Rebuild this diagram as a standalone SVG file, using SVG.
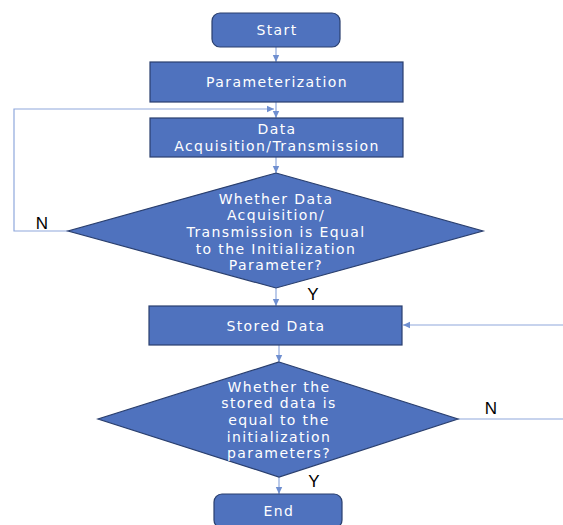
<svg xmlns="http://www.w3.org/2000/svg" width="563" height="525" viewBox="0 0 563 525">
<defs>
<marker id="ah" markerWidth="8" markerHeight="8" refX="7" refY="4" orient="auto" markerUnits="userSpaceOnUse">
<path d="M0,0.8 L7,4 L0,7.2 Z" fill="#6f8fd0"/>
</marker>
<style>
.box{fill:#4f72be;stroke:#2a3f6e;stroke-width:1.2}
.t{fill:#ffffff;font-family:"DejaVu Sans","Noto Sans",sans-serif;font-size:14px;letter-spacing:1.4px;text-anchor:middle}
.c{fill:none;stroke:#8fa8dc;stroke-width:1.2}
.lbl{fill:#000000;font-family:"Liberation Sans",Arial,sans-serif;font-size:17px;text-anchor:middle}
</style>
</defs>
<rect width="563" height="525" fill="#ffffff"/>
<g id="connectors">
<line class="c" x1="276" y1="47" x2="276" y2="62" marker-end="url(#ah)"/>
<line class="c" x1="276" y1="102" x2="276" y2="118" marker-end="url(#ah)"/>
<polyline class="c" points="68,231 14,231 14,109 274,109" marker-end="url(#ah)"/>
<line class="c" x1="276" y1="157" x2="276" y2="173" marker-end="url(#ah)"/>
<line class="c" x1="276" y1="288" x2="276" y2="306" marker-end="url(#ah)"/>
<polyline class="c" points="458,419 566,419 566,325 403,325" marker-end="url(#ah)"/>
<line class="c" x1="279" y1="345" x2="279" y2="362" marker-end="url(#ah)"/>
<line class="c" x1="279" y1="477" x2="279" y2="494" marker-end="url(#ah)"/>
<text class="lbl" x="42" y="229">N</text>
<text class="lbl" x="313" y="300">Y</text>
<text class="lbl" x="491" y="414">N</text>
<text class="lbl" x="314" y="487">Y</text>
</g>
<g id="start">
<rect class="box" x="212" y="13" width="128" height="34" rx="8"/>
<text class="t" x="277" y="35">Start</text>
</g>
<g id="parameterization">
<rect class="box" x="150" y="62" width="253" height="40"/>
<text class="t" x="277" y="87">Parameterization</text>
</g>
<g id="data-acquisition">
<rect class="box" x="150" y="118" width="253" height="39"/>
<text class="t" x="277" y="134">Data</text>
<text class="t" x="277" y="151">Acquisition/Transmission</text>
</g>
<g id="decision1">
<polygon class="box" points="276,173 483,231 276,288 68,231"/>
<text class="t" x="276" y="204">Whether Data</text>
<text class="t" x="276" y="220">Acquisition/</text>
<text class="t" x="276" y="237">Transmission is Equal</text>
<text class="t" x="276" y="254">to the Initialization</text>
<text class="t" x="276" y="270">Parameter?</text>
</g>
<g id="stored-data">
<rect class="box" x="149" y="306" width="253" height="39"/>
<text class="t" x="276" y="331">Stored Data</text>
</g>
<g id="decision2">
<polygon class="box" points="279,362 458,419 279,477 98,419"/>
<text class="t" x="279" y="392">Whether the</text>
<text class="t" x="279" y="408">stored data is</text>
<text class="t" x="279" y="425">equal to the</text>
<text class="t" x="279" y="442">initialization</text>
<text class="t" x="279" y="458">parameters?</text>
</g>
<g id="end">
<rect class="box" x="214" y="494" width="128" height="34" rx="8"/>
<text class="t" x="279" y="516">End</text>
</g>
</svg>
